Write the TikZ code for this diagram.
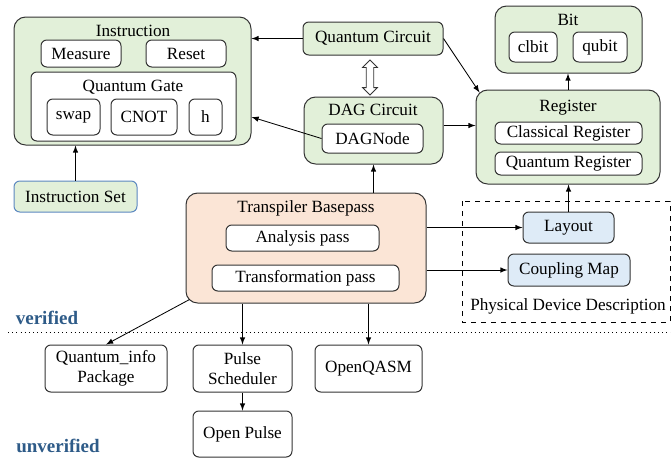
\documentclass[tikz,border=0pt]{standalone}
\usepackage{fontspec}
\setmainfont{LiberationSerif}[Extension=.ttf, UprightFont=*-Regular, BoldFont=*-Bold, ItalicFont=*-Italic, BoldItalicFont=*-BoldItalic]
\usetikzlibrary{shapes.arrows}
\usetikzlibrary{calc}
\definecolor{boxgreen}{HTML}{E2F0D9}
\definecolor{boxpeach}{HTML}{FBE5D6}
\definecolor{boxblue}{HTML}{DEEBF7}
\definecolor{setblue}{HTML}{5B87C0}
\definecolor{verblue}{HTML}{2E5B88}

\begin{document}
\begin{tikzpicture}[x=0.6pt, y=-0.6pt, font=\rmfamily\fontsize{10.3}{12}\selectfont, >=latex,
    outer/.style={draw=black!80, fill=boxgreen, rounded corners=7pt, line width=0.6pt, inner sep=0pt},
    inbox/.style={draw=black!80, fill=white, rounded corners=3.5pt, line width=0.6pt, inner sep=0pt, align=center},
    devbox/.style={draw=black!80, fill=boxblue, rounded corners=3.5pt, line width=0.6pt, inner sep=0pt},
    conn/.style={->, line width=0.5pt},
    tag/.style={font=\rmfamily\fontsize{11.4}{13}\selectfont\bfseries, text=verblue}]
    \useasboundingbox (0,0) rectangle (671,458);

    % top left: instructions
    \node[outer, minimum width=142.2pt, minimum height=76.8pt] (instr) at (132.5,81) {};
    \node (instrtitle) at (133,31) {Instruction};
    \node[inbox, minimum width=48pt, minimum height=16.2pt] (measure) at (81,53.5) {Measure};
    \node[inbox, minimum width=48pt, minimum height=16.2pt] (reset) at (186,53.5) {Reset};
    \node[inbox, minimum width=123pt, minimum height=41.4pt] (qgate) at (133.5,106.5) {};
    \node (qgatetitle) at (133,87) {Quantum Gate};
    \node[inbox, minimum width=31.8pt, minimum height=21.6pt] (swap) at (73.5,117) {swap};
    \node[inbox, minimum width=39.6pt, minimum height=21.6pt] (cnot) at (144,117) {CNOT};
    \node[inbox, minimum width=19.8pt, minimum height=21.6pt] (hgate) at (205.5,117) {h};
    \node[outer, draw=setblue, rounded corners=3.5pt, minimum width=73.8pt, minimum height=18.6pt] (instrset) at (75.5,196.5) {Instruction Set};

    % circuits
    \node[outer, rounded corners=3.5pt, minimum width=84pt, minimum height=19.8pt] (qc) at (373,38.5) {Quantum Circuit};
    \node[outer, minimum width=83.4pt, minimum height=40.2pt] (dag) at (373.5,130.5) {};
    \node (dagtitle) at (373,110) {DAG Circuit};
    \node[inbox, minimum width=60.6pt, minimum height=17.4pt] (dagnode) at (372.5,138.5) {DAGNode};
    \node[double arrow, rotate=90, draw=black!80, fill=white, line width=0.5pt, minimum height=21pt,
          minimum width=8.4pt, inner sep=2pt, double arrow head extend=2.2pt] (dblarrow) at (370,77.5) {};

    % bits and registers
    \node[outer, minimum width=88.2pt, minimum height=40.2pt] (bit) at (568.5,39.5) {};
    \node (bittitle) at (568,20) {Bit};
    \node[inbox, minimum width=28.8pt, minimum height=18pt] (clbit) at (533,47) {clbit};
    \node[inbox, minimum width=32.4pt, minimum height=18pt] (qubit) at (600,47) {qubit};
    \node[outer, minimum width=110.4pt, minimum height=56.4pt] (reg) at (568,137) {};
    \node (regtitle) at (568,108) {Register};
    \node[inbox, minimum width=88.2pt, minimum height=13.2pt] (classreg) at (568.5,133) {Classical Register};
    \node[inbox, minimum width=88.2pt, minimum height=13.8pt] (quantreg) at (568.5,163.5) {Quantum Register};

    % transpiler
    \node[outer, fill=boxpeach, minimum width=144pt, minimum height=66pt] (basepass) at (306,248) {};
    \node (basepasstitle) at (306,208) {Transpiler Basepass};
    \node[inbox, minimum width=91.8pt, minimum height=15.6pt] (analysis) at (302.5,238) {Analysis pass};
    \node[inbox, minimum width=112.2pt, minimum height=15.6pt] (transform) at (305.5,278) {Transformation pass};

    % physical device
    \draw[dashed, line width=0.5pt] (462,201) rectangle (670,322);
    \node[devbox, minimum width=54.6pt, minimum height=18.6pt] (layout) at (568.5,227.5) {Layout};
    \node[devbox, minimum width=73.2pt, minimum height=19.2pt] (coupling) at (569,270) {Coupling Map};
    \node (devtitle) at (568,306) {Physical Device Description};

    % verified / unverified
    \draw[dotted, line width=0.5pt] (8,332) -- (671,332);
    \node[tag] (verified) at (47,318) {verified};
    \node[tag] (unverified) at (58,446) {unverified};
    \node[inbox, minimum width=73.2pt, minimum height=28.2pt] (qinfo) at (106,368.5) {Quantum\_info\\Package};
    \node[inbox, minimum width=59.4pt, minimum height=28.2pt] (pulsesched) at (242.5,368.5) {Pulse\\Scheduler};
    \node[inbox, minimum width=64.2pt, minimum height=28.2pt] (openqasm) at (368.5,368.5) {OpenQASM};
    \node[inbox, minimum width=59.4pt, minimum height=27.6pt] (openpulse) at (242.5,434) {Open Pulse};

    % connectors
    \draw[conn] (qc.west) -- (qc.west -| instr.east);
    \draw[conn] (dagnode.west) -- (instr.east |- swap);
    \draw[conn] (instrset.north) -- (instrset.north |- instr.south);
    \draw[conn] (qc.east) -- ([shift={(4,3)}]reg.north west);
    \draw[conn] ([yshift=3pt]dag.east) -- ([yshift=3pt]dag.east -| reg.west);
    \draw[conn] (reg.north) -- (reg.north |- bit.south);
    \draw[conn] (basepass.north -| dag.south) -- (dag.south);
    \draw[conn] (layout.north) -- (layout.north |- reg.south);
    \draw[conn] (basepass.east |- layout) -- (layout.west);
    \draw[conn] (basepass.east |- coupling) -- (coupling.west);
    \draw[conn] ([shift={(4,-4)}]basepass.south west) -- (qinfo.north);
    \draw[conn] (basepass.south -| pulsesched) -- (pulsesched.north);
    \draw[conn] (basepass.south -| openqasm) -- (openqasm.north);
    \draw[conn] (pulsesched.south) -- (openpulse.north);
\end{tikzpicture}
\end{document}
